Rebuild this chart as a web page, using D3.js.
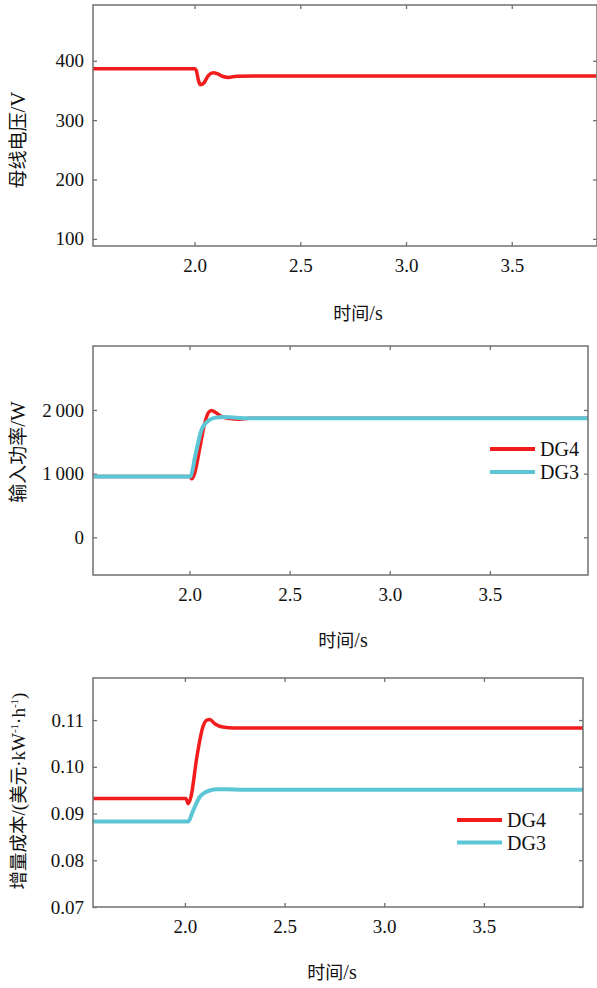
<!DOCTYPE html>
<html>
<head>
<meta charset="utf-8">
<script src="https://cdn.jsdelivr.net/npm/d3@7"></script>
<style>
  html, body { margin: 0; padding: 0; background: #fff; }
  svg { display: block; }
</style>
</head>
<body>
<div id="chart"></div>
<script>
// ---- data ----
const xTicks = [2.0, 2.5, 3.0, 3.5];

// bus voltage (V)
const voltageTime   = [1.52, 2.0, 2.008, 2.018, 2.027, 2.045, 2.065, 2.087, 2.11, 2.135, 2.16, 2.2, 2.3, 3.9];
const voltageValues = [386.5, 386.5, 384, 368, 359.5, 363, 375, 380, 378, 373.5, 372, 374, 374.5, 374.5];
const voltageTicks  = [100, 200, 300, 400];

// input power (W)
const powerDG4Time   = [1.52, 2.0, 2.012, 2.025, 2.05, 2.075, 2.095, 2.11, 2.13, 2.16, 2.2, 2.25, 2.3, 3.99];
const powerDG4Values = [955, 955, 920, 1000, 1380, 1780, 1960, 1990, 1960, 1900, 1865, 1855, 1870, 1870];
const powerDG3Time   = [1.52, 2.0, 2.005, 2.03, 2.06, 2.08, 2.1, 2.13, 2.17, 2.22, 2.3, 3.99];
const powerDG3Values = [955, 955, 960, 1300, 1690, 1790, 1845, 1880, 1890, 1880, 1870, 1870];
const powerTicks     = [0, 1000, 2000];

// incremental cost
const costDG4Time   = [1.54, 2.005, 2.017, 2.03, 2.06, 2.09, 2.11, 2.125, 2.15, 2.19, 2.25, 4.0];
const costDG4Values = [0.0932, 0.0932, 0.0921, 0.0935, 0.1021, 0.1085, 0.1100, 0.1101, 0.1092, 0.1085, 0.1083, 0.1083];
const costDG3Time   = [1.54, 2.017, 2.04, 2.075, 2.1, 2.13, 2.16, 2.2, 2.3, 4.0];
const costDG3Values = [0.0883, 0.0883, 0.0905, 0.0936, 0.0945, 0.0950, 0.0952, 0.0952, 0.0951, 0.0951];
const costTicks     = [0.07, 0.08, 0.09, 0.10, 0.11];

const RED  = '#f21c1c';
const CYAN = '#5cc6d6';
const AXIS = '#707070';
const SERIF = "'Liberation Serif', Tinos, 'Noto Serif', 'DejaVu Serif', 'Times New Roman', Times, FreeSerif, serif";
const CJK   = "'Noto Sans CJK SC', 'Noto Sans', sans-serif";

const svg = d3.select('#chart').append('svg')
  .attr('width', 597).attr('height', 988);

function zip(t, v) { return t.map((d, i) => ({ t: d, v: v[i] })); }

function drawPanel(p) {
  const x = d3.scaleLinear().domain(p.xDomain).range([p.left, p.right]);
  const y = d3.scaleLinear().domain(p.yDomain).range([p.bottom, p.top]);
  const g = svg.append('g');

  const tickStyle = sel => {
    sel.attr('font-family', null).attr('font-size', null);
    sel.select('.domain').remove();
    sel.selectAll('.tick line').attr('stroke', AXIS).attr('stroke-width', 1.3);
    sel.selectAll('.tick text')
      .style('font-family', SERIF).style('font-size', '19px').attr('fill', '#111');
  };

  g.append('g').attr('transform', `translate(0,${p.bottom})`)
    .call(d3.axisBottom(x).tickValues(xTicks).tickSize(-4).tickPadding(13).tickFormat(d3.format('.1f')))
    .call(tickStyle);
  g.append('g').attr('transform', `translate(0,${p.top})`)
    .call(d3.axisTop(x).tickValues(xTicks).tickSize(-4).tickFormat(''))
    .call(tickStyle);
  g.append('g').attr('transform', `translate(${p.left},0)`)
    .call(d3.axisLeft(y).tickValues(p.yTicks).tickSize(-4).tickPadding(9).tickFormat(p.yFormat))
    .call(tickStyle);
  g.append('g').attr('transform', `translate(${p.right},0)`)
    .call(d3.axisRight(y).tickValues(p.yTicks).tickSize(-4).tickFormat(''))
    .call(tickStyle);

  const clipId = 'clip' + p.id;
  svg.append('clipPath').attr('id', clipId).append('rect')
    .attr('x', p.left).attr('y', p.top)
    .attr('width', p.right - p.left).attr('height', p.bottom - p.top);

  const line = d3.line().x(d => x(d.t)).y(d => y(d.v)).curve(d3.curveMonotoneX);
  p.series.forEach(s => {
    g.append('path').datum(s.data)
      .attr('clip-path', `url(#${clipId})`)
      .attr('d', line)
      .attr('fill', 'none')
      .attr('stroke', s.color)
      .attr('stroke-width', s.width)
      .attr('stroke-linejoin', 'round');
  });

  // frame
  g.append('rect')
    .attr('x', p.left).attr('y', p.top)
    .attr('width', p.right - p.left).attr('height', p.bottom - p.top)
    .attr('fill', 'none').attr('stroke', AXIS).attr('stroke-width', 1.5);

  // legend
  if (p.legend) {
    p.legend.items.forEach((it, i) => {
      const ly = p.legend.y + i * p.legend.gap;
      g.append('line')
        .attr('x1', p.legend.x).attr('x2', p.legend.x + 45)
        .attr('y1', ly).attr('y2', ly)
        .attr('stroke', it.color).attr('stroke-width', 4);
      g.append('text')
        .attr('x', p.legend.x + 50).attr('y', ly + 7)
        .style('font-family', SERIF).style('font-size', '20px').attr('fill', '#111')
        .text(it.label);
    });
  }

  // x label
  g.append('text')
    .attr('x', p.xLabelX).attr('y', p.xLabelY)
    .attr('text-anchor', 'middle')
    .attr('fill', '#111')
    .call(t => {
      t.append('tspan').style('font-family', CJK).style('font-size', '18px').text('时间');
      t.append('tspan').style('font-family', SERIF).style('font-size', '20px').text('/s');
    });

  // y label
  const yl = g.append('text')
    .attr('transform', `translate(25,${p.yLabelY}) rotate(-90)`)
    .attr('text-anchor', 'middle')
    .attr('fill', '#111');
  p.yLabel(yl);
}

const cjk = (t, s, size) => t.append('tspan').style('font-family', CJK).style('font-size', size + 'px').text(s);
const ser = (t, s, size, dy) => t.append('tspan').style('font-family', SERIF).style('font-size', size + 'px').attr('dy', dy || null).text(s);

drawPanel({
  id: 1,
  left: 93, right: 597, top: 5, bottom: 246,
  xDomain: [1.52, 3.903], yDomain: [88, 494],
  yTicks: voltageTicks, yFormat: d3.format('d'),
  series: [{ data: zip(voltageTime, voltageValues), color: RED, width: 3.5 }],
  xLabelX: 358, xLabelY: 320,
  yLabelY: 140,
  yLabel: t => { cjk(t, '母线电压', 19); ser(t, '/V', 21); }
});

drawPanel({
  id: 2,
  left: 93, right: 588, top: 346, bottom: 575,
  xDomain: [1.518, 3.99], yDomain: [-592, 3005],
  yTicks: powerTicks, yFormat: d => d3.format(',')(d).replace(',', '\u2009'),
  series: [
    { data: zip(powerDG4Time, powerDG4Values), color: RED, width: 3.5 },
    { data: zip(powerDG3Time, powerDG3Values), color: CYAN, width: 4 }
  ],
  legend: { x: 490, y: 449, gap: 23, items: [{ label: 'DG4', color: RED }, { label: 'DG3', color: CYAN }] },
  xLabelX: 343, xLabelY: 647,
  yLabelY: 452,
  yLabel: t => { cjk(t, '输入功率', 19); ser(t, '/W', 21); }
});

drawPanel({
  id: 3,
  left: 93, right: 583, top: 678, bottom: 907,
  xDomain: [1.539, 3.997], yDomain: [0.07, 0.119],
  yTicks: costTicks, yFormat: d3.format('.2f'),
  series: [
    { data: zip(costDG4Time, costDG4Values), color: RED, width: 3.5 },
    { data: zip(costDG3Time, costDG3Values), color: CYAN, width: 4 }
  ],
  legend: { x: 457, y: 820, gap: 22.5, items: [{ label: 'DG4', color: RED }, { label: 'DG3', color: CYAN }] },
  xLabelX: 332, xLabelY: 979,
  yLabelY: 791,
  yLabel: t => {
    cjk(t, '增量成本', 18.5);
    ser(t, '/(', 19);
    cjk(t, '美元', 18.5);
    ser(t, '·kW', 19);
    ser(t, '-1', 11, -7);
    ser(t, '·h', 19, 7);
    ser(t, '-1', 11, -7);
    ser(t, ')', 19, 7);
  }
});
</script>
</body>
</html>
